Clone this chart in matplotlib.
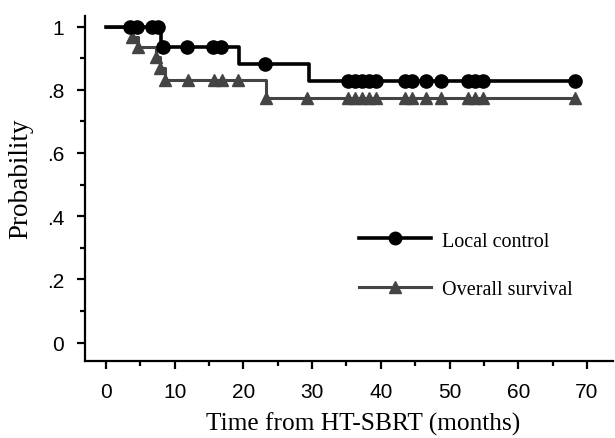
import matplotlib
matplotlib.use("Agg")
import matplotlib.pyplot as plt
import numpy as np

# Local control: step function (drop times, levels) and marker positions
lc_step_t = [0, 8.0, 19.4, 29.6, 68.3]
lc_step_p = [1.0, 0.934, 0.881, 0.828, 0.828]
lc_mark_t = [3.5, 4.5, 6.7, 7.6, 8.3, 11.8, 15.6, 16.7, 23.1, 35.2, 36.2, 37.3,
             38.3, 39.3, 43.5, 44.5, 46.6, 48.8, 52.7, 53.7, 54.9, 68.3]

# Overall survival
os_step_t = [0, 3.8, 4.7, 7.3, 7.9, 8.6, 23.3, 68.3]
os_step_p = [1.0, 0.967, 0.935, 0.903, 0.870, 0.830, 0.775, 0.775]
os_mark_t = [3.8, 4.7, 7.3, 7.9, 8.6, 11.9, 15.7, 16.9, 19.2, 23.3, 29.3, 35.2,
             36.2, 37.3, 38.3, 39.3, 43.5, 44.5, 46.6, 48.8, 52.7, 53.7, 54.9, 68.3]

xticks = [0, 10, 20, 30, 40, 50, 60, 70]
yticks = [0, 0.2, 0.4, 0.6, 0.8, 1.0]
ytick_labels = ["0", ".2", ".4", ".6", ".8", "1"]


def step_value(t_steps, p_steps, t):
    idx = np.searchsorted(t_steps, t, side="right") - 1
    return np.array(p_steps)[idx]


fig = plt.figure(figsize=(6.15, 4.39), dpi=100)
ax = fig.add_axes([0.138, 0.1754, 0.859, 0.7856])

os_color = "#444444"
ax.step(os_step_t, os_step_p, where="post", color=os_color, lw=2.2, zorder=2)
ax.plot(os_mark_t, step_value(os_step_t, os_step_p, os_mark_t), ls="none",
        marker="^", ms=9, color=os_color, zorder=3)
ax.step(lc_step_t, lc_step_p, where="post", color="black", lw=2.6, zorder=4)
ax.plot(lc_mark_t, step_value(lc_step_t, lc_step_p, lc_mark_t), ls="none",
        marker="o", ms=9.5, color="black", zorder=5)

# legend proxies
h1, = ax.plot([], [], color="black", lw=2.6, marker="o", ms=9)
h2, = ax.plot([], [], color=os_color, lw=2.2, marker="^", ms=9)
leg = ax.legend([h1, h2], ["Local control", "Overall survival"],
                loc="center left", bbox_to_anchor=(0.518, 0.278),
                frameon=False, numpoints=1, handlelength=3.6,
                handletextpad=0.55, labelspacing=1.45, borderpad=0,
                borderaxespad=0,
                prop={"family": "Liberation Serif", "size": 14.5})

ax.set_xlim(-3.06, 73.8)
ax.set_ylim(-0.0585, 1.033)
ax.spines["top"].set_visible(False)
ax.spines["right"].set_visible(False)
for s in ["left", "bottom"]:
    ax.spines[s].set_linewidth(1.6)

ax.set_xticks(xticks)
ax.set_xticks(np.arange(5, 75, 10), minor=True)
ax.set_yticks(yticks)
ax.set_yticklabels(ytick_labels)
ax.set_yticks(np.arange(0.1, 1.0, 0.2), minor=True)
ax.tick_params(which="major", length=6, width=1.6, pad=9, labelsize=15)
ax.tick_params(which="minor", length=3.5, width=1.6)
for lab in ax.get_xticklabels() + ax.get_yticklabels():
    lab.set_family(["Liberation Sans", "DejaVu Sans"])

ax.set_xlabel("Time from HT-SBRT (months)", family="Liberation Serif",
              fontsize=18.3)
ax.set_ylabel("Probability", family="Liberation Serif", fontsize=19.5)
ax.xaxis.set_label_coords(0.527, -0.148)
ax.yaxis.set_label_coords(-0.098, 0.53)

fig.savefig("out.png", dpi=100)
